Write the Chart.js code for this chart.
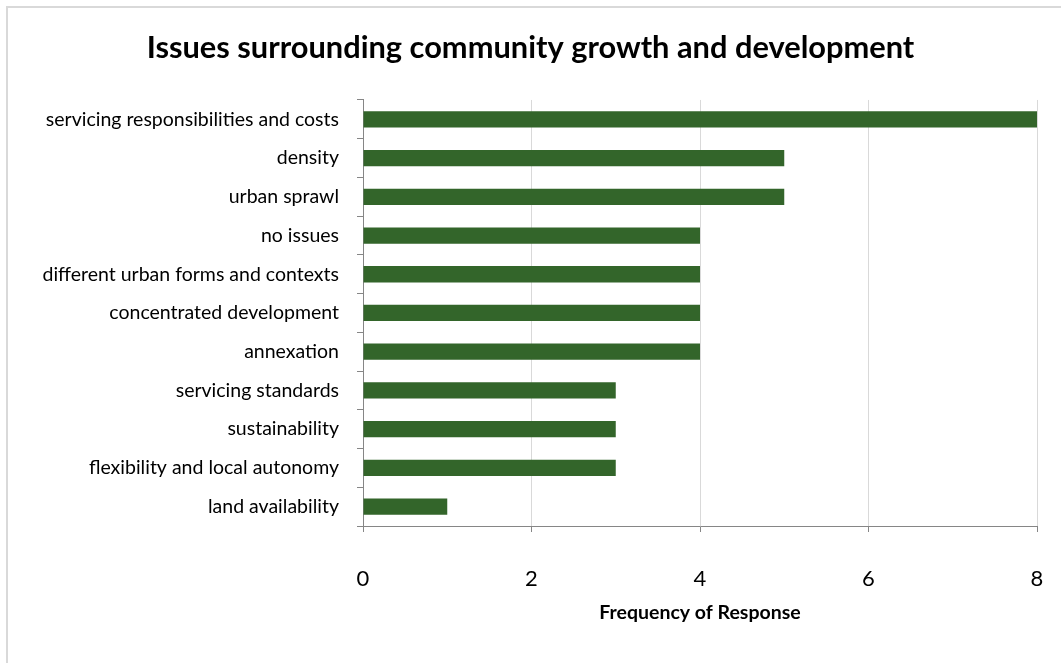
<!DOCTYPE html>
<html>
<head>
<meta charset="utf-8">
<script src="https://cdn.jsdelivr.net/npm/chart.js@4.4.1/dist/chart.umd.min.js"></script>
<style>
  html, body { margin: 0; padding: 0; background: #fff; overflow: hidden; }
  #frame {
    position: absolute; left: 6px; top: 6px;
    width: 1100px; height: 700px;
    border: 2px solid #d9d9d9;
  }
  #issues { position: absolute; left: 0; top: 0; }
</style>
</head>
<body>
<div id="frame"></div>
<canvas id="issues" width="1061" height="663"></canvas>
<script>
// survey responses, top to bottom
var issues = [
    "servicing responsibilities and costs",
    "density",
    "urban sprawl",
    "no issues",
    "different urban forms and contexts",
    "concentrated development",
    "annexation",
    "servicing standards",
    "sustainability",
    "flexibility and local autonomy",
    "land availability"
];
var responses = [8, 5, 5, 4, 4, 4, 4, 3, 3, 3, 1];
var freqTicks = [0, 2, 4, 6, 8];

var axisGray = '#868686';
var font = "Lato, 'Open Sans', sans-serif";

var ctx = document.getElementById('issues').getContext('2d');
var issuesChart = new Chart(ctx, {
    type: 'bar',
    data: {
        labels: issues,
        datasets: [
            {
                data: responses,
                backgroundColor: '#33652a',
                categoryPercentage: 1,
                barPercentage: 0.42
            }
        ]
    },
    options: {
        indexAxis: 'y',
        responsive: false,
        animation: false,
        layout: { padding: { left: 24, right: 24, top: 0, bottom: 0 } },
        plugins: {
            legend: { display: false },
            tooltip: { enabled: false },
            title: {
                display: true,
                text: 'Issues surrounding community growth and development',
                color: '#000',
                font: { family: font, size: 30.8, weight: 'bold', lineHeight: 1.2 },
                padding: { top: 30, bottom: 33 }
            }
        },
        scales: {
            x: {
                min: 0,
                max: 8,
                afterBuildTicks: function (scale) {
                    scale.ticks = freqTicks.map(function (v) { return { value: v }; });
                },
                afterFit: function (scale) {
                    // keep the plot edge fixed; the last label may overhang
                    scale.height = 137;
                    scale.paddingLeft = 0;
                    scale.paddingRight = 0;
                },
                grid: {
                    color: function (c) { return c.index === 0 ? 'rgba(0,0,0,0)' : '#d9d9d9'; },
                    tickColor: axisGray,
                    tickLength: 6
                },
                border: { display: true, color: axisGray },
                ticks: {
                    color: '#000',
                    padding: 34,
                    maxRotation: 0,
                    font: { family: font, size: 22 }
                },
                title: {
                    display: true,
                    text: 'Frequency of Response',
                    color: '#000',
                    font: { family: font, size: 19.5, weight: 'bold', lineHeight: 1.2 },
                    padding: { top: 0, bottom: 39 }
                }
            },
            y: {
                afterFit: function (scale) { scale.width = 339; },
                grid: {
                    drawOnChartArea: false,
                    tickColor: axisGray,
                    tickLength: 6
                },
                border: { display: true, color: axisGray },
                ticks: {
                    color: '#000',
                    padding: 18,
                    autoSkip: false,
                    font: { family: font, size: 19.5 }
                }
            }
        }
    }
});
</script>
</body>
</html>
